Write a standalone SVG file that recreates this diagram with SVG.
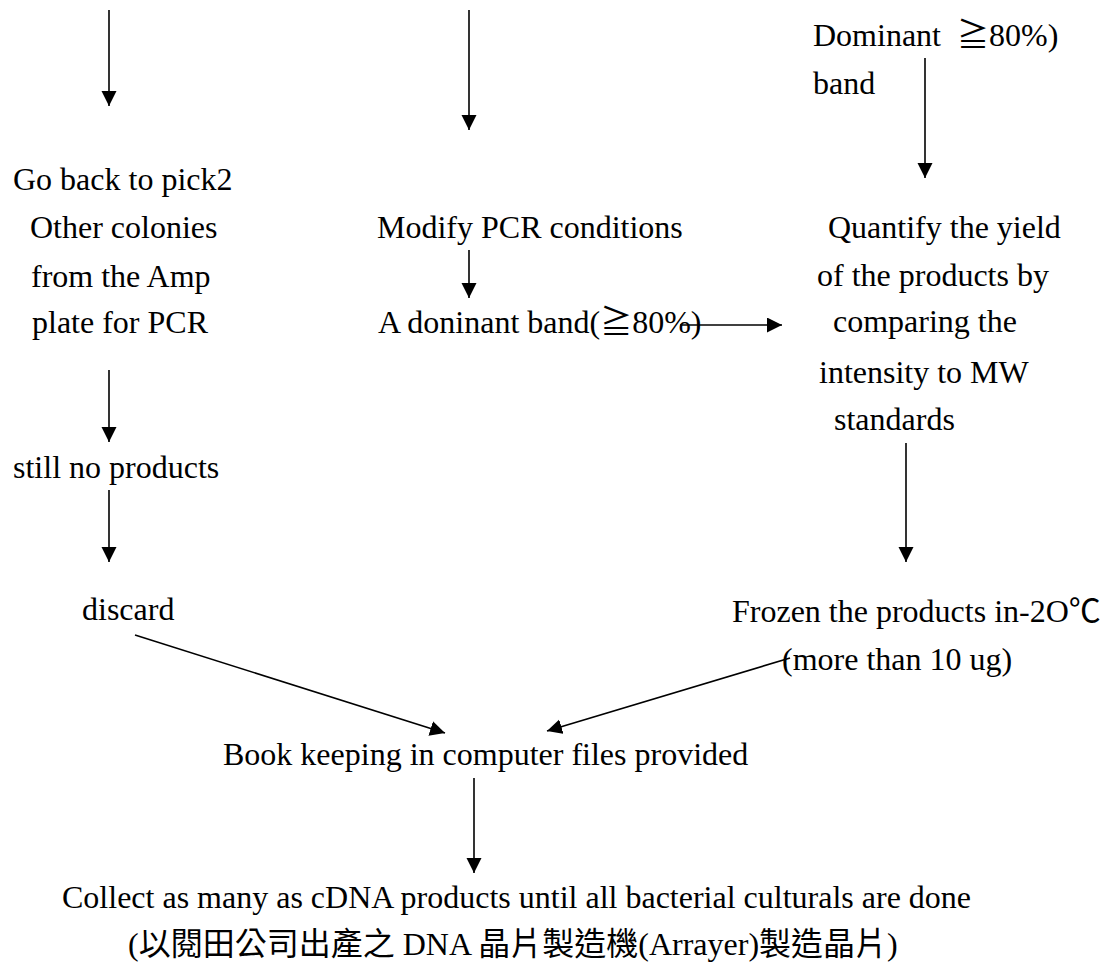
<svg xmlns="http://www.w3.org/2000/svg" width="1106" height="965" viewBox="0 0 1106 965">
<style>
text{font-family:"Liberation Serif","Noto Sans CJK TC",serif;font-size:32px;fill:#000;}
.k{font-family:"Noto Sans CJK TC",sans-serif;}
.r{font-family:"Liberation Serif",serif;}
.c{stroke:#000;stroke-width:1.6;fill:none;}
</style>
<defs>
<marker id="ah" markerUnits="userSpaceOnUse" markerWidth="16" markerHeight="16" refX="15" refY="7.5" orient="auto">
<path d="M0,0 L15,7.5 L0,15 z" fill="#000"/>
</marker>
</defs>
<rect width="1106" height="965" fill="#fff"/>
<g id="connectors">
<line class="c" x1="109" y1="10" x2="109" y2="106" marker-end="url(#ah)"/>
<line class="c" x1="469" y1="10" x2="469" y2="130" marker-end="url(#ah)"/>
<line class="c" x1="925" y1="58" x2="925" y2="178" marker-end="url(#ah)"/>
<line class="c" x1="469" y1="250" x2="469" y2="298" marker-end="url(#ah)"/>
<line class="c" x1="680" y1="325" x2="782" y2="325" marker-end="url(#ah)"/>
<line class="c" x1="109" y1="370" x2="109" y2="442" marker-end="url(#ah)"/>
<line class="c" x1="109" y1="490" x2="109" y2="562" marker-end="url(#ah)"/>
<line class="c" x1="906" y1="443" x2="906" y2="562" marker-end="url(#ah)"/>
<line class="c" x1="135" y1="635" x2="445" y2="733" marker-end="url(#ah)"/>
<line class="c" x1="790" y1="658" x2="547" y2="731" marker-end="url(#ah)"/>
<line class="c" x1="474" y1="778" x2="474" y2="873" marker-end="url(#ah)"/>
</g>
<g id="dominant">
<text x="813" y="46" xml:space="preserve"><tspan class="r">Dominant  </tspan><tspan class="k">≧</tspan><tspan class="r">80%)</tspan></text>
<text x="813" y="94">band</text>
</g>
<g id="goback">
<text x="13" y="190">Go back to pick2</text>
<text x="30" y="238">Other colonies</text>
<text x="31" y="287">from the Amp</text>
<text x="32" y="333">plate for PCR</text>
</g>
<g id="modify">
<text x="377" y="238">Modify PCR conditions</text>
</g>
<g id="dominantband">
<text x="378" y="333"><tspan class="r">A doninant band(</tspan><tspan class="k">≧</tspan><tspan class="r">80%)</tspan></text>
</g>
<g id="quantify">
<text x="828" y="238">Quantify the yield</text>
<text x="817" y="286">of the products by</text>
<text x="833" y="332">comparing the</text>
<text x="819" y="383">intensity to MW</text>
<text x="834" y="430">standards</text>
</g>
<g id="stillno">
<text x="13" y="478">still no products</text>
</g>
<g id="discard">
<text x="82" y="620">discard</text>
</g>
<g id="frozen">
<text x="732" y="622"><tspan class="r">Frozen the products in-2O</tspan><tspan class="k">℃</tspan></text>
<text x="782" y="670">(more than 10 ug)</text>
</g>
<g id="bookkeeping">
<text x="223" y="765">Book keeping in computer files provided</text>
</g>
<g id="collect">
<text x="62" y="908">Collect as many as cDNA products until all bacterial culturals are done</text>
<text x="128" y="955" xml:space="preserve"><tspan class="r">(</tspan><tspan class="k">以閱田公司出產之</tspan><tspan class="r"> DNA </tspan><tspan class="k">晶片製造機</tspan><tspan class="r">(Arrayer)</tspan><tspan class="k">製造晶片</tspan><tspan class="r">)</tspan></text>
</g>
</svg>
